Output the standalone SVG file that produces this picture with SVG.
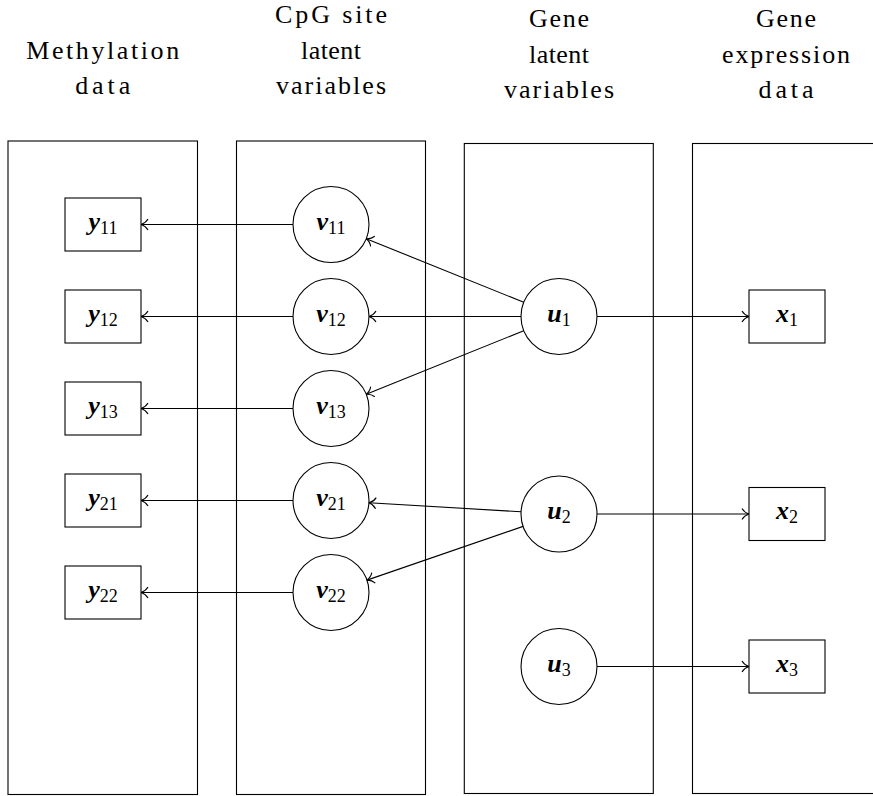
<svg xmlns="http://www.w3.org/2000/svg" width="873" height="796" viewBox="0 0 873 796">
<style>
.col{fill:none;stroke:#000;stroke-width:1.1}
.nd{fill:#fff;stroke:#000;stroke-width:1.1}
.hd{font-family:"Liberation Serif","DejaVu Serif",serif;font-size:26px;fill:#000;text-anchor:middle}
.lb{font-family:"Liberation Serif","DejaVu Serif",serif;fill:#000;text-anchor:middle}
.m{font-size:26px;font-weight:bold;font-style:italic}
.s{font-size:18px}
.ed{fill:none;stroke:#000;stroke-width:1.1;marker-end:url(#to)}
</style>
<defs>
<marker id="to" markerUnits="userSpaceOnUse" markerWidth="12" markerHeight="14" viewBox="-8 -7 10 14" refX="0" refY="0" orient="auto" overflow="visible">
<path d="M -7 -5.5 C -5 -2 -2 -0.6 0 0 C -2 0.6 -5 2 -7 5.5" fill="none" stroke="#000" stroke-width="1.1"/>
</marker>
</defs>
<g id="columns">
<rect class="col" x="8" y="141" width="189.5" height="653.5"/>
<rect class="col" x="236.5" y="141" width="189" height="653.5"/>
<rect class="col" x="464.3" y="143.5" width="189" height="650"/>
<rect class="col" x="692.5" y="143.5" width="189" height="650"/>
</g>
<g id="headers">
<text class="hd" x="102.7" y="58.5" textLength="153">Methylation</text>
<text class="hd" x="102.7" y="94" textLength="55">data</text>
<text class="hd" x="331" y="23" textLength="112">CpG site</text>
<text class="hd" x="331" y="58.5" textLength="60">latent</text>
<text class="hd" x="331" y="94" textLength="110">variables</text>
<text class="hd" x="559" y="27" textLength="60">Gene</text>
<text class="hd" x="559" y="62.5" textLength="60">latent</text>
<text class="hd" x="559" y="98" textLength="110">variables</text>
<text class="hd" x="786" y="27" textLength="60">Gene</text>
<text class="hd" x="786" y="62.5" textLength="128">expression</text>
<text class="hd" x="786" y="98" textLength="55">data</text>
</g>
<g id="connectors">
<line class="ed" x1="293" y1="224.5" x2="141" y2="224.5"/>
<line class="ed" x1="293" y1="316.5" x2="141" y2="316.5"/>
<line class="ed" x1="293" y1="408.5" x2="141" y2="408.5"/>
<line class="ed" x1="293" y1="500.5" x2="141" y2="500.5"/>
<line class="ed" x1="293" y1="592.5" x2="141" y2="592.5"/>
<line class="ed" x1="523.76" y1="302.28" x2="366.24" y2="238.72"/>
<line class="ed" x1="521" y1="316.5" x2="369" y2="316.5"/>
<line class="ed" x1="523.76" y1="330.72" x2="366.24" y2="394.28"/>
<line class="ed" x1="521.07" y1="511.75" x2="368.93" y2="502.75"/>
<line class="ed" x1="523.07" y1="526.37" x2="366.93" y2="580.13"/>
<line class="ed" x1="597" y1="316.5" x2="749" y2="316.5"/>
<line class="ed" x1="597" y1="514" x2="749" y2="514"/>
<line class="ed" x1="597" y1="666.5" x2="749" y2="666.5"/>
</g>
<g id="y11"><rect class="nd" x="65" y="198" width="76" height="53"/><text class="lb" x="103" y="229.5"><tspan class="m">y</tspan><tspan class="s" dy="4">11</tspan></text></g>
<g id="y12"><rect class="nd" x="65" y="290" width="76" height="53"/><text class="lb" x="103" y="321.5"><tspan class="m">y</tspan><tspan class="s" dy="4">12</tspan></text></g>
<g id="y13"><rect class="nd" x="65" y="382" width="76" height="53"/><text class="lb" x="103" y="413.5"><tspan class="m">y</tspan><tspan class="s" dy="4">13</tspan></text></g>
<g id="y21"><rect class="nd" x="65" y="474" width="76" height="53"/><text class="lb" x="103" y="505.5"><tspan class="m">y</tspan><tspan class="s" dy="4">21</tspan></text></g>
<g id="y22"><rect class="nd" x="65" y="566" width="76" height="53"/><text class="lb" x="103" y="597.5"><tspan class="m">y</tspan><tspan class="s" dy="4">22</tspan></text></g>
<g id="v11"><circle class="nd" cx="331" cy="224.5" r="38"/><text class="lb" x="331" y="229.5"><tspan class="m">v</tspan><tspan class="s" dy="4">11</tspan></text></g>
<g id="v12"><circle class="nd" cx="331" cy="316.5" r="38"/><text class="lb" x="331" y="321.5"><tspan class="m">v</tspan><tspan class="s" dy="4">12</tspan></text></g>
<g id="v13"><circle class="nd" cx="331" cy="408.5" r="38"/><text class="lb" x="331" y="413.5"><tspan class="m">v</tspan><tspan class="s" dy="4">13</tspan></text></g>
<g id="v21"><circle class="nd" cx="331" cy="500.5" r="38"/><text class="lb" x="331" y="505.5"><tspan class="m">v</tspan><tspan class="s" dy="4">21</tspan></text></g>
<g id="v22"><circle class="nd" cx="331" cy="592.5" r="38"/><text class="lb" x="331" y="597.5"><tspan class="m">v</tspan><tspan class="s" dy="4">22</tspan></text></g>
<g id="u1"><circle class="nd" cx="559" cy="316.5" r="38"/><text class="lb" x="559" y="321.5"><tspan class="m">u</tspan><tspan class="s" dy="4">1</tspan></text></g>
<g id="u2"><circle class="nd" cx="559" cy="514" r="38"/><text class="lb" x="559" y="519"><tspan class="m">u</tspan><tspan class="s" dy="4">2</tspan></text></g>
<g id="u3"><circle class="nd" cx="559" cy="666.5" r="38"/><text class="lb" x="559" y="671.5"><tspan class="m">u</tspan><tspan class="s" dy="4">3</tspan></text></g>
<g id="x1"><rect class="nd" x="749" y="290" width="76" height="53"/><text class="lb" x="787" y="321.5"><tspan class="m">x</tspan><tspan class="s" dy="4">1</tspan></text></g>
<g id="x2"><rect class="nd" x="749" y="487.5" width="76" height="53"/><text class="lb" x="787" y="519"><tspan class="m">x</tspan><tspan class="s" dy="4">2</tspan></text></g>
<g id="x3"><rect class="nd" x="749" y="640" width="76" height="53"/><text class="lb" x="787" y="671.5"><tspan class="m">x</tspan><tspan class="s" dy="4">3</tspan></text></g>
</svg>
